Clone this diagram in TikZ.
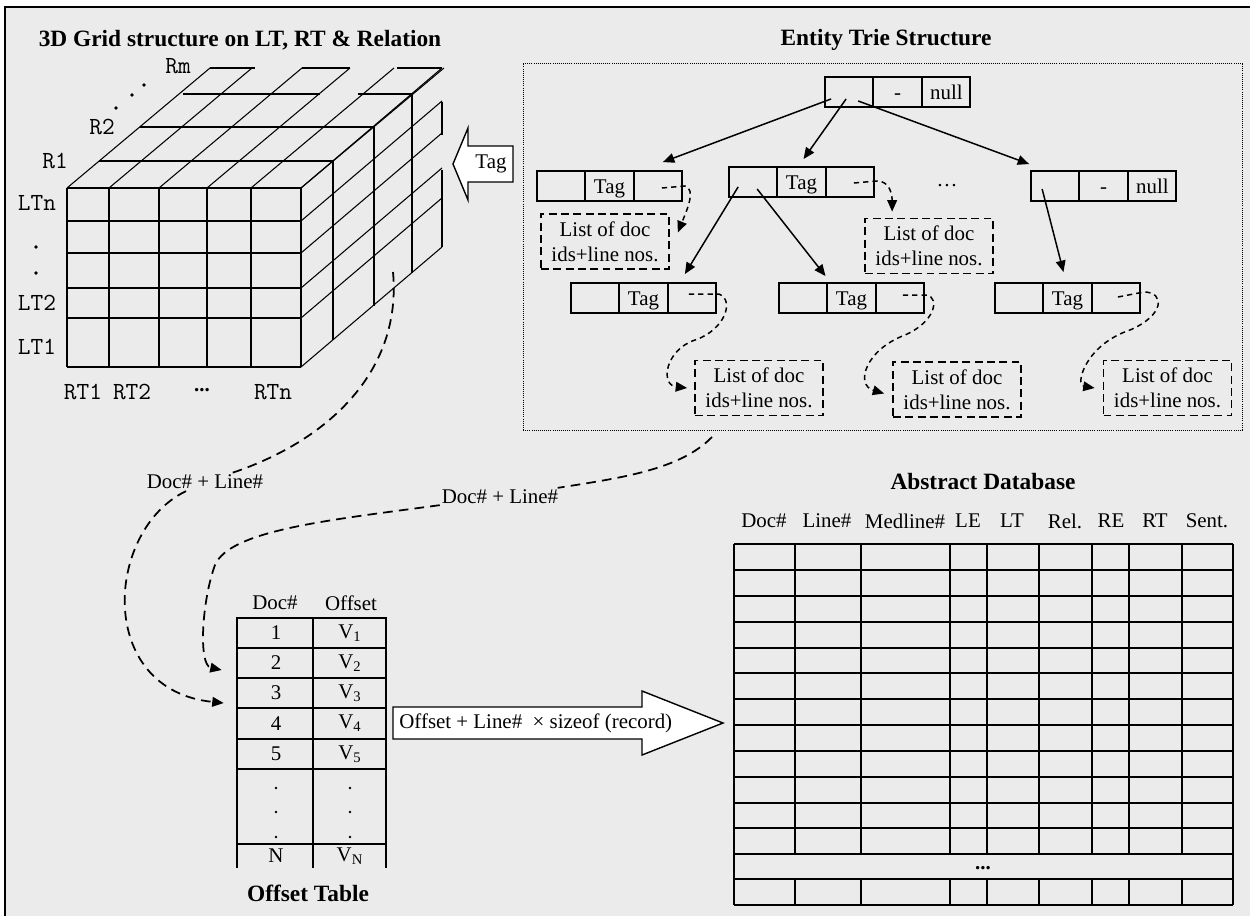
\documentclass[tikz,border=0pt]{standalone}
\usepackage{fontspec}
\setmainfont{Liberation Serif}
\usepackage{tikz}
\usetikzlibrary{shapes.multipart, arrows.meta, positioning}
\definecolor{bgc}{RGB}{235,235,235}
\newcommand\reccell[1]{\makebox[0.92cm]{\rule[-0.14cm]{0pt}{0.56cm}#1}}

\begin{document}
\begin{tikzpicture}[x=0.02cm,y=-0.02cm,>={Triangle[length=6.5pt,width=5.5pt]},
    font=\fontsize{11.9}{14}\selectfont,
    rec/.style={rectangle split,rectangle split horizontal,rectangle split parts=3,
      draw,line width=1.1pt,inner xsep=0.01cm,inner ysep=0.02cm},
    lst/.style={draw,line width=1pt,dash pattern=on 4.5pt off 2.5pt,minimum width=2.56cm,
      minimum height=1.1cm,inner sep=0pt,align=center,font=\fontsize{11.9}{14.2}\selectfont},
    ptr/.style={->,line width=0.85pt,dash pattern=on 3pt off 2.3pt},
    kid/.style={->,line width=0.85pt},
    flow/.style={line width=1pt,dash pattern=on 5.5pt off 3.5pt},
    cube/.style={line width=0.95pt},
    diag/.style={line width=0.6pt},
    tab/.style={line width=1.1pt},
    title/.style={font=\fontsize{13.3}{15}\selectfont\bfseries},
    glab/.style={font=\fontsize{14}{14}\selectfont\ttfamily}]

    \useasboundingbox (0,0) rectangle (1250,916);
    \fill[bgc] (5,7) rectangle (1250,916);
    \draw[line width=1.4pt] (5,916) -- (5,7) -- (1250,7);

    % 3D grid
    \node[title] (gridtitle) at (240,40) {3D Grid structure on LT, RT \& Relation};
    \foreach \x in {67,109,159,207,251,301} {
        \draw[cube] (\x,188) -- (\x,367);
        \draw[diag] (\x,188) -- ++(143,-120);
    }
    \foreach \y in {188,221,253,288,318,367} {
        \draw[cube] (67,\y) -- (301,\y);
        \draw[diag] (301,\y) -- ++(141,-120);
    }
    \foreach \dx/\dy in {32/-27,73/-61} {
        \draw[cube] (67+\dx,188+\dy) -- (301+\dx,188+\dy) -- (301+\dx,367+\dy);
    }
    \draw[cube] (183,94) -- (320,94) (358,94) -- (412,94) -- (412,273);
    \draw[cube] (210,68) -- (255,68) (302,68) -- (350,68) (397,68) -- (442,68);
    \draw[cube] (442,102) -- (442,135) (442,170) -- (442,247);
    \node[glab] (rm) at (178,66) {Rm};
    \node[glab] (r2) at (102,127) {R2};
    \node[glab] (r1) at (55,161) {R1};
    \node[glab] (ltn) at (37,203) {LTn};
    \node[glab] (lt2) at (37,303) {LT2};
    \node[glab] (lt1) at (37,347) {LT1};
    \node[glab] (rt1) at (83,392) {RT1};
    \node[glab] (rt2) at (132,392) {RT2};
    \node[glab] (rtn) at (273,392) {RTn};
    \node (rtdots) at (202,390) {\textbf{...}};
    \foreach \p in {(116,108),(132,95),(144,85),(36,247),(36,273)}
        \fill \p circle (1.8);
    \coordinate (gsrc) at (393,272);

    % tag arrow
    \draw[line width=0.8pt,fill=white] (513,146) -- (468,146) -- (468,128) -- (453,164)
        -- (468,200) -- (468,182) -- (513,182) -- cycle;
    \node (tag) at (491,164) {Tag};

    % trie
    \node[title] (trietitle) at (886,40) {Entity Trie Structure};
    \node[draw,line width=0.55pt,dash pattern=on 0.5pt off 0.7pt,minimum width=14.4cm,
        minimum height=7.36cm] (triebox) at (883,247) {};
    \node[rec] (t0) at (897.5,92) {\reccell{}\nodepart{two}\reccell{-}\nodepart{three}\reccell{null}};
    \node[rec] (t1) at (609.5,186) {\reccell{}\nodepart{two}\reccell{Tag}\nodepart{three}\reccell{}};
    \node[rec] (t2) at (801.5,182) {\reccell{}\nodepart{two}\reccell{Tag}\nodepart{three}\reccell{}};
    \node[rec] (t3) at (1103.5,186) {\reccell{}\nodepart{two}\reccell{-}\nodepart{three}\reccell{null}};
    \node[rec] (t21) at (643.5,298) {\reccell{}\nodepart{two}\reccell{Tag}\nodepart{three}\reccell{}};
    \node[rec] (t22) at (851.5,298) {\reccell{}\nodepart{two}\reccell{Tag}\nodepart{three}\reccell{}};
    \node[rec] (t31) at (1067.5,298) {\reccell{}\nodepart{two}\reccell{Tag}\nodepart{three}\reccell{}};
    \node (tdots) at (947,186) {\dots};

    \node[lst] (l1) at (605,241.5) {List of doc\\ids+line nos.};
    \node[lst] (l2) at (929,246) {List of doc\\ids+line nos.};
    \node[lst] (l21) at (759,388) {List of doc\\ids+line nos.};
    \node[lst] (l22) at (957,389.5) {List of doc\\ids+line nos.};
    \node[lst] (l31) at (1167.5,388) {List of doc\\ids+line nos.};

    \draw[kid] ([shift={(7,-9)}]t0.south west) -- ([shift={(-20,-8)}]t1.north east);
    \draw[kid] ([shift={(22,-9)}]t0.south west) -- ([shift={(2,-7)}]t2.north);
    \draw[kid] ([shift={(34,-7)}]t0.south west) -- ([shift={(-1,-6)}]t3.north west);
    \draw[kid] ([shift={(10,-11)}]t2.south west) -- ([shift={(-32,-8)}]t21.north east);
    \draw[kid] ([shift={(29,-9)}]t2.south west) -- ([shift={(-26,-6)}]t22.north);
    \draw[kid] ([shift={(12,-13)}]t3.south west) -- ([shift={(-4,-10)}]t31.north);

    \draw[ptr] ([shift={(-21,2)}]t1.east) -- ([shift={(2,0)}]t1.east)
        .. controls +(12,3) and +(8,-20) .. ([shift={(8,-9)}]l1.east);
    \draw[ptr] ([shift={(-21,1)}]t2.east) -- ([shift={(2,-1)}]t2.east)
        .. controls +(14,0) and +(0,-15) .. ([shift={(28,-6)}]l2.north west);
    \draw[ptr] ([shift={(-28,-4)}]t21.east) -- ([shift={(2,-4)}]t21.east)
        .. controls (735,300) and (725,330) .. (695,340)
        .. controls (665,350) and (660,385) .. ([shift={(-7,0)}]l21.west);
    \draw[ptr] ([shift={(-22,-3)}]t22.east) -- ([shift={(2,-3)}]t22.east)
        .. controls (940,298) and (935,322) .. (905,335)
        .. controls (865,350) and (855,385) .. ([shift={(-8,4)}]l22.west);
    \draw[ptr] ([shift={(-23,-1)}]t31.east) -- ([shift={(3,-6)}]t31.east)
        .. controls (1165,292) and (1165,315) .. (1130,330)
        .. controls (1085,345) and (1075,385) .. ([shift={(-8,0)}]l31.west);
    \coordinate (tsrc) at (712,437);

    % offset table
    \node (hdoc) at (275,603) {Doc\#};
    \node (hoff) at (351,603) {Offset};
    \draw[tab] (237,868) -- (237,618) -- (386,618) -- (386,868);
    \draw[tab] (313,618) -- (313,868);
    \foreach \y in {648,678,708,739,769,844}
        \draw[tab] (237,\y) -- (386,\y);
    \foreach \i/\y in {1/633,2/663,3/693,4/723.5,5/754} {
        \node[minimum width=2.98cm,minimum height=0.6cm] (r\i) at (311.5,\y) {};
        \node at (276,\y) {\i};
        \node at (350,\y) {V\textsubscript{\i}};
    }
    \foreach \y in {788,812,837} {
        \fill (276,\y) circle (1.3);
        \fill (350,\y) circle (1.3);
    }
    \node (rn) at (276,856) {N};
    \node (vn) at (350,856) {V\textsubscript{N}};
    \node[title] (offtitle) at (308,893) {Offset Table};

    % doc + line flows
    \node[inner sep=1pt] (lab1) at (205,482) {Doc\# + Line\#};
    \node[inner sep=1pt] (lab2) at (500,497) {Doc\# + Line\#};
    \draw[flow] (gsrc) .. controls (402,370) and (330,440) .. (lab1);
    \draw[flow,->] (lab1) .. controls (105,530) and (95,690) .. ([shift={(-13,10)}]r3.west);
    \draw[flow] (tsrc) .. controls (680,470) and (620,478) .. (lab2);
    \draw[flow,->] (lab2) .. controls (330,520) and (230,530) .. (215,565)
        .. controls (202,600) and (198,665) .. ([shift={(-15,7)}]r2.west);

    % record arrow
    \draw[line width=0.8pt,fill=white] (393,707) -- (642,707) -- (642,691) -- (723,723)
        -- (642,755) -- (642,739) -- (393,739) -- cycle;
    \node[anchor=west,inner sep=0pt] (calc) at (399,723) {Offset + Line\#\ \ × sizeof (record)};

    % abstract database
    \node[title] (dbtitle) at (983,481) {Abstract Database};
    \foreach \x/\t in {764/Doc\#,827/Line\#,905/Medline\#,968/LE,1012/LT,1065/Rel.,1111/RE,1155/RT,1207/Sent.}
        \node at (\x,521) {\t};
    \foreach \y in {544,570,596,622,648,673,699,725,751,777,803,828,854,879,905}
        \draw[tab] (734,\y) -- (1233,\y);
    \draw[tab] (734,544) -- (734,905) (1233,544) -- (1233,905);
    \foreach \x in {795,861,950,987,1039,1092,1129,1182}
        \draw[tab] (\x,544) -- (\x,854) (\x,879) -- (\x,905);
    \node (dbdots) at (983,868) {\textbf{...}};
\end{tikzpicture}
\end{document}
